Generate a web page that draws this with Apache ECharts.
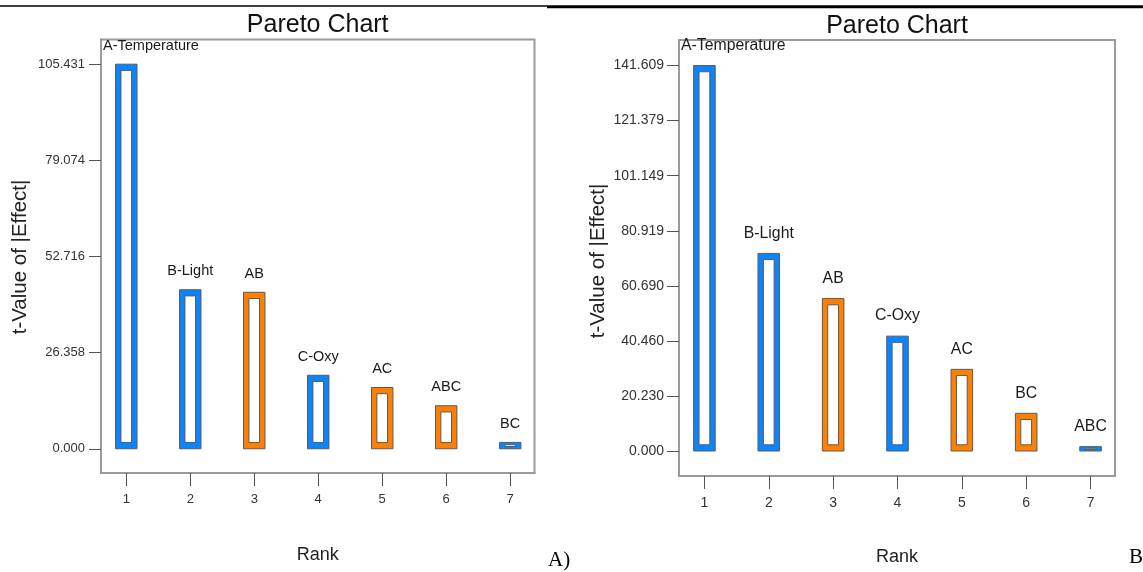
<!DOCTYPE html>
<html>
<head>
<meta charset="utf-8">
<script src="https://cdn.jsdelivr.net/npm/echarts@6/dist/echarts.min.js"></script>
<style>
html,body{margin:0;padding:0;background:#fff;}
#c{width:1143px;height:572px;}
</style>
</head>
<body>
<div id="c"></div>
<script>
// ---- Data ----
const ranks = [1, 2, 3, 4, 5, 6, 7];
const termsA = ['A-Temperature', 'B-Light', 'AB', 'C-Oxy', 'AC', 'ABC', 'BC'];
const valuesA = [105.431, 43.6, 42.9, 20.15, 16.8, 11.8, 1.75];
const signA = ['+', '+', '-', '+', '-', '-', '+'];
const ticksA = [0, 26.358, 52.716, 79.074, 105.431];

const termsB = ['A-Temperature', 'B-Light', 'AB', 'C-Oxy', 'AC', 'BC', 'ABC'];
const valuesB = [141.609, 72.6, 56.0, 42.2, 30.0, 13.85, 1.6];
const signB = ['+', '+', '-', '+', '-', '-', '+'];
const ticksB = [0, 20.230, 40.460, 60.690, 80.919, 101.149, 121.379, 141.609];

// ---- Styles ----
const BLUE = '#0a84ff';
const ORANGE = '#ff8000';
const OUTLINE = '#5a5a5a';
const FONT = '"Liberation Sans", Arial, sans-serif';

const chart = echarts.init(document.getElementById('c'), null, {renderer: 'canvas'});

const mctx = document.createElement('canvas').getContext('2d');
function textWidth(t, size) { mctx.font = size + 'px ' + FONT; return mctx.measureText(t).width; }

function makeRender(terms, signs, fontSize, gap) {
  return function (params, api) {
    const i = params.dataIndex;
    const x = api.value(0), v = api.value(1);
    const top = api.coord([x, v]);
    const base = api.coord([x, 0]);
    const w = api.size([0.335, 0])[0];
    const h = base[1] - top[1];
    const x0 = base[0] - w / 2;
    const insH = 5.4;
    const insV = Math.min(6.2, h * 0.36);
    const color = signs[i] === '+' ? BLUE : ORANGE;
    const gridLeft = params.coordSys.x;
    const tw = textWidth(terms[i], fontSize);
    let tx = base[0], align = 'center';
    if (tx - tw / 2 < gridLeft + 2) { tx = gridLeft + 2; align = 'left'; }
    return {
      type: 'group',
      children: [
        {type: 'rect', shape: {x: x0, y: top[1], width: w, height: h},
         style: {fill: color, stroke: OUTLINE, lineWidth: 1}},
        {type: 'rect', shape: {x: x0 + insH, y: top[1] + insV, width: w - 2 * insH, height: Math.max(0, h - 2 * insV)},
         style: {fill: '#fff', stroke: OUTLINE, lineWidth: 1}},
        {type: 'text', style: {text: terms[i], x: tx, y: top[1] - gap, align: align, verticalAlign: 'middle',
         font: fontSize + 'px ' + FONT, fill: '#1a1a1a'}}
      ]
    };
  };
}

function yAxis(gridIndex, min, max, ticks, fs, margin) {
  return {
    type: 'value', gridIndex: gridIndex, min: min, max: max,
    axisLine: {show: true, lineStyle: {color: '#9a9a9a', width: 2}},
    axisTick: {show: true, inside: false, length: 12, customValues: ticks, lineStyle: {color: '#555', width: 1}},
    axisLabel: {show: true, customValues: ticks, margin: margin, fontFamily: FONT, fontSize: fs, color: '#333',
      formatter: v => Number(v).toFixed(3)},
    splitLine: {show: false}
  };
}
function xAxis(gridIndex, fs, margin) {
  return {
    type: 'value', gridIndex: gridIndex, min: 0.605, max: 7.38,
    axisLine: {show: true, onZero: false, lineStyle: {color: '#9a9a9a', width: 2}},
    axisTick: {show: true, inside: false, length: 13, customValues: ranks, lineStyle: {color: '#555', width: 1}},
    axisLabel: {show: true, customValues: ranks, margin: margin, fontFamily: FONT, fontSize: fs, color: '#333',
      formatter: v => String(Math.round(v))},
    splitLine: {show: false}
  };
}

const option = {
  animation: false,
  backgroundColor: '#fff',
  grid: [
    {left: 101, top: 39.5, width: 433.5, height: 433.5, show: true, borderColor: '#9a9a9a', borderWidth: 2, containLabel: false},
    {left: 679, top: 40, width: 436, height: 436, show: true, borderColor: '#9a9a9a', borderWidth: 2, containLabel: false}
  ],
  xAxis: [xAxis(0, 13, 20), xAxis(1, 14, 20)],
  yAxis: [yAxis(0, -6.64, 112.2, ticksA, 13, 16), yAxis(1, -9.18, 151.0, ticksB, 14, 15)],
  series: [
    {type: 'custom', xAxisIndex: 0, yAxisIndex: 0, data: valuesA.map((v, i) => [ranks[i], v]),
     renderItem: makeRender(termsA, signA, 14.5, 18.5), clip: false},
    {type: 'custom', xAxisIndex: 1, yAxisIndex: 1, data: valuesB.map((v, i) => [ranks[i], v]),
     renderItem: makeRender(termsB, signB, 15.8, 20), clip: false}
  ],
  graphic: [
    {type: 'line', shape: {x1: 0, y1: 6, x2: 547, y2: 6}, style: {stroke: '#000', lineWidth: 1.5}},
    {type: 'line', shape: {x1: 547, y1: 6.7, x2: 1143, y2: 6.7}, style: {stroke: '#000', lineWidth: 3}},
    {type: 'text', x: 317.7, y: 25, style: {text: 'Pareto Chart', align: 'center', verticalAlign: 'middle', font: '25px ' + FONT, fill: '#111'}},
    {type: 'text', x: 897, y: 26, style: {text: 'Pareto Chart', align: 'center', verticalAlign: 'middle', font: '25px ' + FONT, fill: '#111'}},
    {type: 'text', x: 20, y: 257, rotation: Math.PI / 2, style: {text: 't-Value of |Effect|', align: 'center', verticalAlign: 'middle', font: '20.5px ' + FONT, fill: '#222'}},
    {type: 'text', x: 598, y: 261, rotation: Math.PI / 2, style: {text: 't-Value of |Effect|', align: 'center', verticalAlign: 'middle', font: '20.5px ' + FONT, fill: '#222'}},
    {type: 'text', x: 317.7, y: 555, style: {text: 'Rank', align: 'center', verticalAlign: 'middle', font: '18px ' + FONT, fill: '#222'}},
    {type: 'text', x: 897, y: 557, style: {text: 'Rank', align: 'center', verticalAlign: 'middle', font: '18px ' + FONT, fill: '#222'}},
    {type: 'text', x: 548, y: 560, style: {text: 'A)', align: 'left', verticalAlign: 'middle', font: '21px "Liberation Serif", "Times New Roman", serif', fill: '#000'}},
    {type: 'text', x: 1129, y: 557, style: {text: 'B)', align: 'left', verticalAlign: 'middle', font: '21px "Liberation Serif", "Times New Roman", serif', fill: '#000'}}
  ]
};
chart.setOption(option);
</script>
</body>
</html>
